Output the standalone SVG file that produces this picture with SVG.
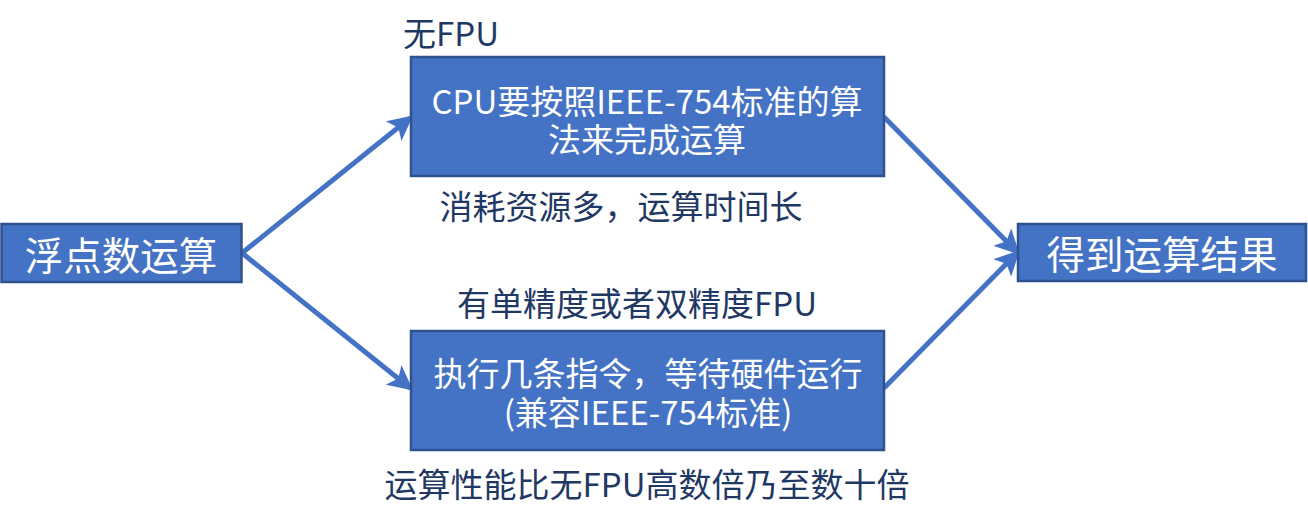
<svg xmlns="http://www.w3.org/2000/svg" width="1308" height="520" viewBox="0 0 1308 520">
<defs>
<style>
.box{fill:#4472C4;stroke:#2F528F;stroke-width:2.5}
.bt{fill:#FFFFFF;font-family:"Noto Sans CJK SC","Microsoft YaHei",sans-serif;text-anchor:middle;dominant-baseline:central}
.lb{fill:#1F3864;font-family:"Noto Sans CJK SC","Microsoft YaHei",sans-serif;text-anchor:middle;dominant-baseline:central;font-size:33px}
.conn{stroke:#4472C4;stroke-width:5;fill:none;marker-end:url(#ah)}
</style>
<marker id="ah" markerWidth="5" markerHeight="5" refX="4.2" refY="2.5" orient="auto" markerUnits="strokeWidth">
<path d="M0,0 L5,2.5 L0,5 L1.2,2.5 Z" fill="#4472C4"/>
</marker>
</defs>
<g id="connectors">
<line class="conn" x1="242" y1="253" x2="410" y2="118"/>
<line class="conn" x1="242" y1="253" x2="410" y2="388"/>
<line class="conn" x1="884" y1="117" x2="1017" y2="252"/>
<line class="conn" x1="884" y1="388" x2="1017" y2="253"/>
</g>
<g id="node-start">
<rect class="box" x="1.5" y="224" width="240" height="58"/>
<text class="bt" x="121" y="253" font-size="38.5">浮点数运算</text>
</g>
<g id="node-nofpu">
<rect class="box" x="411" y="57" width="473" height="119"/>
<text class="bt" x="647" y="100" font-size="33">CPU要按照IEEE-754标准的算</text>
<text class="bt" x="647" y="138" font-size="33">法来完成运算</text>
</g>
<g id="node-fpu">
<rect class="box" x="411" y="331" width="473" height="119"/>
<text class="bt" x="648" y="372" font-size="33">执行几条指令，等待硬件运行</text>
<text class="bt" x="648" y="411" font-size="33">(兼容IEEE-754标准)</text>
</g>
<g id="node-result">
<rect class="box" x="1018" y="224" width="288" height="57"/>
<text class="bt" x="1162" y="252" font-size="38.5">得到运算结果</text>
</g>
<g id="labels">
<text class="lb" x="451" y="32">无FPU</text>
<text class="lb" x="621" y="205">消耗资源多，运算时间长</text>
<text class="lb" x="637" y="302">有单精度或者双精度FPU</text>
<text class="lb" x="647" y="483">运算性能比无FPU高数倍乃至数十倍</text>
</g>
</svg>
